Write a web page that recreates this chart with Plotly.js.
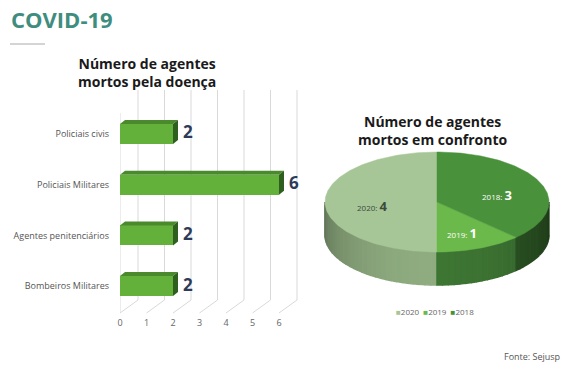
<!DOCTYPE html>
<html><head><meta charset="utf-8">
<script src="https://cdn.plot.ly/plotly-3.0.1.min.js"></script>
<style>html,body{margin:0;padding:0;background:#fff}</style>
</head><body><div id="chart" style="width:570px;height:390px"></div>
<script>
// ---- data ----
const barCategories = ['Policiais civis', 'Policiais Militares', 'Agentes penitenciários', 'Bombeiros Militares'];
const barValues = [2, 6, 2, 2];
const xTicks = [0, 1, 2, 3, 4, 5, 6];
const pieLabels = ['2020', '2019', '2018'];
const pieValues = [4, 1, 3];

// ---- style ----
const W = 570, H = 390;
const FONT = 'Open Sans, Noto Sans, sans-serif';
const pieTopColors = ['#a7c697', '#6bb84b', '#4a913b'];
const pieSideColors = ['#8fac80', '#3d7533', '#2c5524'];
const pieLabelColors = ['#3b4a3b', '#ffffff', '#ffffff'];
const barFront = '#63b13b', barTop = '#4a8a2c', barSide = '#2f5f1e';

const py = p => 1 - p / H;   // pixel row -> paper y
const pxp = p => p / W;      // pixel col -> paper x

// bar axes geometry
const x0px = 120, unit = 26.5, xMax = 7;
const yc0 = 134, ySp = 50.7;
const barW = 0.395;
const dX = 5 / unit, dY = 4 / ySp;
const backOff = 18 / unit;
const yIdx = barCategories.map((c, i) => i);

const traces = [];
traces.push({
  type: 'bar', orientation: 'h', x: barValues, y: yIdx, width: barW,
  marker: { color: barFront, line: { width: 0 } },
  hoverinfo: 'skip', showlegend: false, xaxis: 'x', yaxis: 'y'
});

const shapes = [];
const annotations = [];

// grid / floor lines
xTicks.forEach(t => {
  shapes.push({ type: 'line', xref: 'x', yref: 'paper', x0: t + backOff, x1: t + backOff, y0: py(300), y1: py(90), line: { color: '#d9d9d9', width: 1 }, layer: 'below' });
  shapes.push({ type: 'line', xref: 'x', yref: 'paper', x0: t, x1: t + backOff, y0: py(313), y1: py(300), line: { color: '#d9d9d9', width: 1 }, layer: 'below' });
});
shapes.push({ type: 'line', xref: 'x', yref: 'paper', x0: 0, x1: 0, y0: py(313), y1: py(113), line: { color: '#d9d9d9', width: 1 }, layer: 'below' });

// 3D faces of the bars + value labels
barValues.forEach((v, i) => {
  const yt = i - barW / 2, yb = i + barW / 2;
  shapes.push({ type: 'path', xref: 'x', yref: 'y', layer: 'above',
    path: `M0,${yt} L${v},${yt} L${v + dX},${yt - dY} L${dX},${yt - dY} Z`,
    fillcolor: barTop, line: { width: 0 } });
  shapes.push({ type: 'path', xref: 'x', yref: 'y', layer: 'above',
    path: `M${v},${yt} L${v + dX},${yt - dY} L${v + dX},${yb - dY} L${v},${yb} Z`,
    fillcolor: barSide, line: { width: 0 } });
  annotations.push({ xref: 'x', yref: 'y', x: v + dX, y: i, xanchor: 'left', yanchor: 'middle', xshift: 3, yshift: 2,
    text: '<b>' + v + '</b>', showarrow: false, font: { family: FONT, size: 17, color: '#2d3b59' } });
});

// ---- pseudo-3D elliptical pie built from pieValues ----
const cx = 437, cy = 202, rx = 112, ry = 50, depth = 33;
const total = pieValues.reduce((a, b) => a + b, 0);
const rad = d => d * Math.PI / 180;
const ex = th => cx + rx * Math.cos(rad(th));
const ey = th => cy + ry * Math.sin(rad(th));
function shade(hex, f) {
  const n = parseInt(hex.slice(1), 16);
  const r = Math.round(((n >> 16) & 255) * f), g = Math.round(((n >> 8) & 255) * f), b = Math.round((n & 255) * f);
  return `rgb(${r},${g},${b})`;
}
let start = -90;
const slices = pieValues.map((v, k) => {
  const sweep = v / total * 360;
  const s = { lo: start - sweep, hi: start, k };
  start -= sweep;
  return s;
});
// side walls (base fill per slice, then shaded strips on top)
slices.forEach(s => {
  for (let m = -2; m <= 2; m++) {
    const a = Math.max(s.lo, 360 * m), b = Math.min(s.hi, 180 + 360 * m);
    if (b <= a) continue;
    const step = 3;
    for (let t = a; t < b - 1e-9; t += step) {
      const t2 = Math.min(t + step, b);
      const xs = [], ys = [];
      for (let u = t; u <= t2 + 1e-9; u += 1) { xs.push(ex(Math.min(u, t2))); ys.push(ey(Math.min(u, t2))); }
      xs.push(ex(t2)); ys.push(ey(t2));
      for (let u = t2; u >= t - 1e-9; u -= 1) { xs.push(ex(Math.max(u, t))); ys.push(ey(Math.max(u, t)) + depth); }
      xs.push(ex(t)); ys.push(ey(t) + depth);
      const mid = (t + t2) / 2;
      const f = 0.68 + 0.32 * Math.sin(rad(mid));
      const col = shade(pieSideColors[s.k], f);
      traces.push({ type: 'scatter', mode: 'lines', x: xs, y: ys, fill: 'toself', fillcolor: col,
        line: { color: col, width: 1.5 }, hoverinfo: 'skip', showlegend: false, xaxis: 'x2', yaxis: 'y2' });
    }
  }
});
// top faces
slices.forEach(s => {
  const xs = [cx], ys = [cy];
  const n = Math.max(2, Math.ceil((s.hi - s.lo) / 1));
  for (let j = 0; j <= n; j++) { const th = s.lo + (s.hi - s.lo) * j / n; xs.push(ex(th)); ys.push(ey(th)); }
  xs.push(cx); ys.push(cy);
  traces.push({ type: 'scatter', mode: 'lines', x: xs, y: ys, fill: 'toself', fillcolor: pieTopColors[s.k],
    line: { color: pieTopColors[s.k], width: 0.5 }, hoverinfo: 'skip', showlegend: false, xaxis: 'x2', yaxis: 'y2' });
  const mid = (s.lo + s.hi) / 2, fr = 0.58;
  annotations.push({ xref: 'x2', yref: 'y2', x: cx + rx * fr * Math.cos(rad(mid)), y: cy + ry * fr * Math.sin(rad(mid)) + 4,
    text: `<span style="font-size:8px">${pieLabels[s.k]}: </span><b>${pieValues[s.k]}</b>`,
    showarrow: false, font: { family: FONT, size: 13, color: pieLabelColors[s.k] } });
});

// pie legend
annotations.push({ xref: 'x2', yref: 'y2', x: 435, y: 311, showarrow: false,
  text: pieLabels.map((l, k) => `<span style="color:${pieTopColors[k]}">■</span>${l}`).join('  '),
  font: { family: FONT, size: 8, color: '#666' } });

// titles
annotations.push({ xref: 'paper', yref: 'paper', x: pxp(9), y: py(19), xanchor: 'left', yanchor: 'middle', showarrow: false,
  text: '<b>COVID-19</b>', font: { family: FONT, size: 22, color: '#3f8d7f' } });
shapes.push({ type: 'line', xref: 'paper', yref: 'paper', x0: pxp(10), x1: pxp(45), y0: py(44), y1: py(44), line: { color: '#aaaaaa', width: 1 } });
annotations.push({ xref: 'paper', yref: 'paper', x: pxp(147), y: py(72), xanchor: 'center', yanchor: 'middle', showarrow: false,
  text: '<b>Número de agentes<br>mortos pela doença</b>', font: { family: FONT, size: 14, color: '#1a1a1a' } });
annotations.push({ xref: 'paper', yref: 'paper', x: pxp(433), y: py(131), xanchor: 'center', yanchor: 'middle', showarrow: false,
  text: '<b>Número de agentes<br>mortos em confronto</b>', font: { family: FONT, size: 14, color: '#1a1a1a' } });
annotations.push({ xref: 'paper', yref: 'paper', x: pxp(562), y: py(356), xanchor: 'right', yanchor: 'middle', showarrow: false,
  text: 'Fonte: Sejusp', font: { family: FONT, size: 9, color: '#555' } });

const layout = {
  width: W, height: H, margin: { l: 0, r: 0, t: 0, b: 0 },
  paper_bgcolor: '#fff', plot_bgcolor: 'rgba(0,0,0,0)',
  showlegend: false, bargap: 0,
  xaxis: { domain: [pxp(x0px), pxp(x0px + unit * xMax)], range: [0, xMax], tickvals: xTicks, ticktext: xTicks.map(String),
    showgrid: false, zeroline: false, showline: false, ticks: '', ticklabelstandoff: 5,
    tickfont: { family: FONT, size: 9, color: '#666' }, fixedrange: true },
  yaxis: { domain: [py(yc0 + ySp * 3.5), py(yc0 - ySp * 0.5)], range: [3.5, -0.5], tickvals: yIdx, ticktext: barCategories,
    showgrid: false, zeroline: false, showline: false, ticks: '', ticklabelstandoff: 10,
    tickfont: { family: FONT, size: 9, color: '#555' }, fixedrange: true },
  xaxis2: { domain: [pxp(300), 1], range: [300, 570], visible: false, fixedrange: true, anchor: 'y2' },
  yaxis2: { domain: [0, py(90)], range: [390, 90], visible: false, fixedrange: true, anchor: 'x2' },
  shapes, annotations
};
Plotly.newPlot('chart', traces, layout, { displayModeBar: false, staticPlot: true });
</script></body></html>
